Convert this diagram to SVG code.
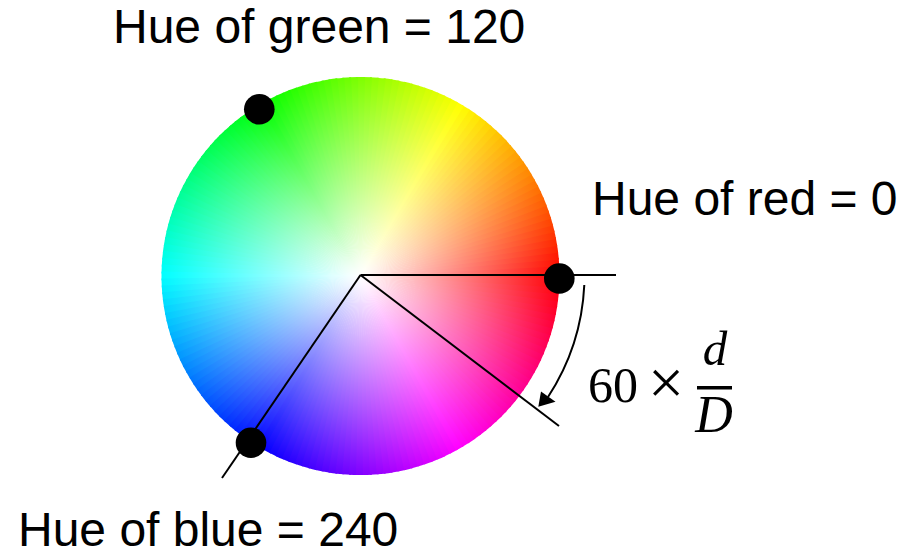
<svg xmlns="http://www.w3.org/2000/svg" xmlns:xlink="http://www.w3.org/1999/xlink" width="912" height="560" viewBox="0 0 912 560">
<style>
.lbl{font-family:"Liberation Sans",Arial,sans-serif;font-size:48px;fill:#000}
.math{font-family:"Liberation Serif","Times New Roman",serif;fill:#000}
.it{font-style:italic}
.ln{stroke:#000;stroke-width:2;fill:none}
.dot{fill:#000}
</style>
<defs>
<path id="w" d="M0 0 L198.95 4.5 A199 199 0 0 0 198.95 -4.5 Z"/>
<radialGradient id="wh" cx="0" cy="0" r="199" gradientUnits="userSpaceOnUse">
<stop offset="0" stop-color="#fff" stop-opacity="1"/>
<stop offset="1" stop-color="#fff" stop-opacity="0"/>
</radialGradient>
</defs>
<rect width="912" height="560" fill="#fff"/>
<g id="wheel" transform="translate(360.5 276)">
<use xlink:href="#w" transform="rotate(0)" fill="hsl(0,100%,50%)"/>
<use xlink:href="#w" transform="rotate(-2)" fill="hsl(2,100%,50%)"/>
<use xlink:href="#w" transform="rotate(-4)" fill="hsl(4,100%,50%)"/>
<use xlink:href="#w" transform="rotate(-6)" fill="hsl(6,100%,50%)"/>
<use xlink:href="#w" transform="rotate(-8)" fill="hsl(8,100%,50%)"/>
<use xlink:href="#w" transform="rotate(-10)" fill="hsl(10,100%,50%)"/>
<use xlink:href="#w" transform="rotate(-12)" fill="hsl(12,100%,50%)"/>
<use xlink:href="#w" transform="rotate(-14)" fill="hsl(14,100%,50%)"/>
<use xlink:href="#w" transform="rotate(-16)" fill="hsl(16,100%,50%)"/>
<use xlink:href="#w" transform="rotate(-18)" fill="hsl(18,100%,50%)"/>
<use xlink:href="#w" transform="rotate(-20)" fill="hsl(20,100%,50%)"/>
<use xlink:href="#w" transform="rotate(-22)" fill="hsl(22,100%,50%)"/>
<use xlink:href="#w" transform="rotate(-24)" fill="hsl(24,100%,50%)"/>
<use xlink:href="#w" transform="rotate(-26)" fill="hsl(26,100%,50%)"/>
<use xlink:href="#w" transform="rotate(-28)" fill="hsl(28,100%,50%)"/>
<use xlink:href="#w" transform="rotate(-30)" fill="hsl(30,100%,50%)"/>
<use xlink:href="#w" transform="rotate(-32)" fill="hsl(32,100%,50%)"/>
<use xlink:href="#w" transform="rotate(-34)" fill="hsl(34,100%,50%)"/>
<use xlink:href="#w" transform="rotate(-36)" fill="hsl(36,100%,50%)"/>
<use xlink:href="#w" transform="rotate(-38)" fill="hsl(38,100%,50%)"/>
<use xlink:href="#w" transform="rotate(-40)" fill="hsl(40,100%,50%)"/>
<use xlink:href="#w" transform="rotate(-42)" fill="hsl(42,100%,50%)"/>
<use xlink:href="#w" transform="rotate(-44)" fill="hsl(44,100%,50%)"/>
<use xlink:href="#w" transform="rotate(-46)" fill="hsl(46,100%,50%)"/>
<use xlink:href="#w" transform="rotate(-48)" fill="hsl(48,100%,50%)"/>
<use xlink:href="#w" transform="rotate(-50)" fill="hsl(50,100%,50%)"/>
<use xlink:href="#w" transform="rotate(-52)" fill="hsl(52,100%,50%)"/>
<use xlink:href="#w" transform="rotate(-54)" fill="hsl(54,100%,50%)"/>
<use xlink:href="#w" transform="rotate(-56)" fill="hsl(56,100%,50%)"/>
<use xlink:href="#w" transform="rotate(-58)" fill="hsl(58,100%,50%)"/>
<use xlink:href="#w" transform="rotate(-60)" fill="hsl(60,100%,50%)"/>
<use xlink:href="#w" transform="rotate(-62)" fill="hsl(62,100%,50%)"/>
<use xlink:href="#w" transform="rotate(-64)" fill="hsl(64,100%,50%)"/>
<use xlink:href="#w" transform="rotate(-66)" fill="hsl(66,100%,50%)"/>
<use xlink:href="#w" transform="rotate(-68)" fill="hsl(68,100%,50%)"/>
<use xlink:href="#w" transform="rotate(-70)" fill="hsl(70,100%,50%)"/>
<use xlink:href="#w" transform="rotate(-72)" fill="hsl(72,100%,50%)"/>
<use xlink:href="#w" transform="rotate(-74)" fill="hsl(74,100%,50%)"/>
<use xlink:href="#w" transform="rotate(-76)" fill="hsl(76,100%,50%)"/>
<use xlink:href="#w" transform="rotate(-78)" fill="hsl(78,100%,50%)"/>
<use xlink:href="#w" transform="rotate(-80)" fill="hsl(80,100%,50%)"/>
<use xlink:href="#w" transform="rotate(-82)" fill="hsl(82,100%,50%)"/>
<use xlink:href="#w" transform="rotate(-84)" fill="hsl(84,100%,50%)"/>
<use xlink:href="#w" transform="rotate(-86)" fill="hsl(86,100%,50%)"/>
<use xlink:href="#w" transform="rotate(-88)" fill="hsl(88,100%,50%)"/>
<use xlink:href="#w" transform="rotate(-90)" fill="hsl(90,100%,50%)"/>
<use xlink:href="#w" transform="rotate(-92)" fill="hsl(92,100%,50%)"/>
<use xlink:href="#w" transform="rotate(-94)" fill="hsl(94,100%,50%)"/>
<use xlink:href="#w" transform="rotate(-96)" fill="hsl(96,100%,50%)"/>
<use xlink:href="#w" transform="rotate(-98)" fill="hsl(98,100%,50%)"/>
<use xlink:href="#w" transform="rotate(-100)" fill="hsl(100,100%,50%)"/>
<use xlink:href="#w" transform="rotate(-102)" fill="hsl(102,100%,50%)"/>
<use xlink:href="#w" transform="rotate(-104)" fill="hsl(104,100%,50%)"/>
<use xlink:href="#w" transform="rotate(-106)" fill="hsl(106,100%,50%)"/>
<use xlink:href="#w" transform="rotate(-108)" fill="hsl(108,100%,50%)"/>
<use xlink:href="#w" transform="rotate(-110)" fill="hsl(110,100%,50%)"/>
<use xlink:href="#w" transform="rotate(-112)" fill="hsl(112,100%,50%)"/>
<use xlink:href="#w" transform="rotate(-114)" fill="hsl(114,100%,50%)"/>
<use xlink:href="#w" transform="rotate(-116)" fill="hsl(116,100%,50%)"/>
<use xlink:href="#w" transform="rotate(-118)" fill="hsl(118,100%,50%)"/>
<use xlink:href="#w" transform="rotate(-120)" fill="hsl(120,100%,50%)"/>
<use xlink:href="#w" transform="rotate(-122)" fill="hsl(122,100%,50%)"/>
<use xlink:href="#w" transform="rotate(-124)" fill="hsl(124,100%,50%)"/>
<use xlink:href="#w" transform="rotate(-126)" fill="hsl(126,100%,50%)"/>
<use xlink:href="#w" transform="rotate(-128)" fill="hsl(128,100%,50%)"/>
<use xlink:href="#w" transform="rotate(-130)" fill="hsl(130,100%,50%)"/>
<use xlink:href="#w" transform="rotate(-132)" fill="hsl(132,100%,50%)"/>
<use xlink:href="#w" transform="rotate(-134)" fill="hsl(134,100%,50%)"/>
<use xlink:href="#w" transform="rotate(-136)" fill="hsl(136,100%,50%)"/>
<use xlink:href="#w" transform="rotate(-138)" fill="hsl(138,100%,50%)"/>
<use xlink:href="#w" transform="rotate(-140)" fill="hsl(140,100%,50%)"/>
<use xlink:href="#w" transform="rotate(-142)" fill="hsl(142,100%,50%)"/>
<use xlink:href="#w" transform="rotate(-144)" fill="hsl(144,100%,50%)"/>
<use xlink:href="#w" transform="rotate(-146)" fill="hsl(146,100%,50%)"/>
<use xlink:href="#w" transform="rotate(-148)" fill="hsl(148,100%,50%)"/>
<use xlink:href="#w" transform="rotate(-150)" fill="hsl(150,100%,50%)"/>
<use xlink:href="#w" transform="rotate(-152)" fill="hsl(152,100%,50%)"/>
<use xlink:href="#w" transform="rotate(-154)" fill="hsl(154,100%,50%)"/>
<use xlink:href="#w" transform="rotate(-156)" fill="hsl(156,100%,50%)"/>
<use xlink:href="#w" transform="rotate(-158)" fill="hsl(158,100%,50%)"/>
<use xlink:href="#w" transform="rotate(-160)" fill="hsl(160,100%,50%)"/>
<use xlink:href="#w" transform="rotate(-162)" fill="hsl(162,100%,50%)"/>
<use xlink:href="#w" transform="rotate(-164)" fill="hsl(164,100%,50%)"/>
<use xlink:href="#w" transform="rotate(-166)" fill="hsl(166,100%,50%)"/>
<use xlink:href="#w" transform="rotate(-168)" fill="hsl(168,100%,50%)"/>
<use xlink:href="#w" transform="rotate(-170)" fill="hsl(170,100%,50%)"/>
<use xlink:href="#w" transform="rotate(-172)" fill="hsl(172,100%,50%)"/>
<use xlink:href="#w" transform="rotate(-174)" fill="hsl(174,100%,50%)"/>
<use xlink:href="#w" transform="rotate(-176)" fill="hsl(176,100%,50%)"/>
<use xlink:href="#w" transform="rotate(-178)" fill="hsl(178,100%,50%)"/>
<use xlink:href="#w" transform="rotate(-180)" fill="hsl(180,100%,50%)"/>
<use xlink:href="#w" transform="rotate(-182)" fill="hsl(182,100%,50%)"/>
<use xlink:href="#w" transform="rotate(-184)" fill="hsl(184,100%,50%)"/>
<use xlink:href="#w" transform="rotate(-186)" fill="hsl(186,100%,50%)"/>
<use xlink:href="#w" transform="rotate(-188)" fill="hsl(188,100%,50%)"/>
<use xlink:href="#w" transform="rotate(-190)" fill="hsl(190,100%,50%)"/>
<use xlink:href="#w" transform="rotate(-192)" fill="hsl(192,100%,50%)"/>
<use xlink:href="#w" transform="rotate(-194)" fill="hsl(194,100%,50%)"/>
<use xlink:href="#w" transform="rotate(-196)" fill="hsl(196,100%,50%)"/>
<use xlink:href="#w" transform="rotate(-198)" fill="hsl(198,100%,50%)"/>
<use xlink:href="#w" transform="rotate(-200)" fill="hsl(200,100%,50%)"/>
<use xlink:href="#w" transform="rotate(-202)" fill="hsl(202,100%,50%)"/>
<use xlink:href="#w" transform="rotate(-204)" fill="hsl(204,100%,50%)"/>
<use xlink:href="#w" transform="rotate(-206)" fill="hsl(206,100%,50%)"/>
<use xlink:href="#w" transform="rotate(-208)" fill="hsl(208,100%,50%)"/>
<use xlink:href="#w" transform="rotate(-210)" fill="hsl(210,100%,50%)"/>
<use xlink:href="#w" transform="rotate(-212)" fill="hsl(212,100%,50%)"/>
<use xlink:href="#w" transform="rotate(-214)" fill="hsl(214,100%,50%)"/>
<use xlink:href="#w" transform="rotate(-216)" fill="hsl(216,100%,50%)"/>
<use xlink:href="#w" transform="rotate(-218)" fill="hsl(218,100%,50%)"/>
<use xlink:href="#w" transform="rotate(-220)" fill="hsl(220,100%,50%)"/>
<use xlink:href="#w" transform="rotate(-222)" fill="hsl(222,100%,50%)"/>
<use xlink:href="#w" transform="rotate(-224)" fill="hsl(224,100%,50%)"/>
<use xlink:href="#w" transform="rotate(-226)" fill="hsl(226,100%,50%)"/>
<use xlink:href="#w" transform="rotate(-228)" fill="hsl(228,100%,50%)"/>
<use xlink:href="#w" transform="rotate(-230)" fill="hsl(230,100%,50%)"/>
<use xlink:href="#w" transform="rotate(-232)" fill="hsl(232,100%,50%)"/>
<use xlink:href="#w" transform="rotate(-234)" fill="hsl(234,100%,50%)"/>
<use xlink:href="#w" transform="rotate(-236)" fill="hsl(236,100%,50%)"/>
<use xlink:href="#w" transform="rotate(-238)" fill="hsl(238,100%,50%)"/>
<use xlink:href="#w" transform="rotate(-240)" fill="hsl(240,100%,50%)"/>
<use xlink:href="#w" transform="rotate(-242)" fill="hsl(242,100%,50%)"/>
<use xlink:href="#w" transform="rotate(-244)" fill="hsl(244,100%,50%)"/>
<use xlink:href="#w" transform="rotate(-246)" fill="hsl(246,100%,50%)"/>
<use xlink:href="#w" transform="rotate(-248)" fill="hsl(248,100%,50%)"/>
<use xlink:href="#w" transform="rotate(-250)" fill="hsl(250,100%,50%)"/>
<use xlink:href="#w" transform="rotate(-252)" fill="hsl(252,100%,50%)"/>
<use xlink:href="#w" transform="rotate(-254)" fill="hsl(254,100%,50%)"/>
<use xlink:href="#w" transform="rotate(-256)" fill="hsl(256,100%,50%)"/>
<use xlink:href="#w" transform="rotate(-258)" fill="hsl(258,100%,50%)"/>
<use xlink:href="#w" transform="rotate(-260)" fill="hsl(260,100%,50%)"/>
<use xlink:href="#w" transform="rotate(-262)" fill="hsl(262,100%,50%)"/>
<use xlink:href="#w" transform="rotate(-264)" fill="hsl(264,100%,50%)"/>
<use xlink:href="#w" transform="rotate(-266)" fill="hsl(266,100%,50%)"/>
<use xlink:href="#w" transform="rotate(-268)" fill="hsl(268,100%,50%)"/>
<use xlink:href="#w" transform="rotate(-270)" fill="hsl(270,100%,50%)"/>
<use xlink:href="#w" transform="rotate(-272)" fill="hsl(272,100%,50%)"/>
<use xlink:href="#w" transform="rotate(-274)" fill="hsl(274,100%,50%)"/>
<use xlink:href="#w" transform="rotate(-276)" fill="hsl(276,100%,50%)"/>
<use xlink:href="#w" transform="rotate(-278)" fill="hsl(278,100%,50%)"/>
<use xlink:href="#w" transform="rotate(-280)" fill="hsl(280,100%,50%)"/>
<use xlink:href="#w" transform="rotate(-282)" fill="hsl(282,100%,50%)"/>
<use xlink:href="#w" transform="rotate(-284)" fill="hsl(284,100%,50%)"/>
<use xlink:href="#w" transform="rotate(-286)" fill="hsl(286,100%,50%)"/>
<use xlink:href="#w" transform="rotate(-288)" fill="hsl(288,100%,50%)"/>
<use xlink:href="#w" transform="rotate(-290)" fill="hsl(290,100%,50%)"/>
<use xlink:href="#w" transform="rotate(-292)" fill="hsl(292,100%,50%)"/>
<use xlink:href="#w" transform="rotate(-294)" fill="hsl(294,100%,50%)"/>
<use xlink:href="#w" transform="rotate(-296)" fill="hsl(296,100%,50%)"/>
<use xlink:href="#w" transform="rotate(-298)" fill="hsl(298,100%,50%)"/>
<use xlink:href="#w" transform="rotate(-300)" fill="hsl(300,100%,50%)"/>
<use xlink:href="#w" transform="rotate(-302)" fill="hsl(302,100%,50%)"/>
<use xlink:href="#w" transform="rotate(-304)" fill="hsl(304,100%,50%)"/>
<use xlink:href="#w" transform="rotate(-306)" fill="hsl(306,100%,50%)"/>
<use xlink:href="#w" transform="rotate(-308)" fill="hsl(308,100%,50%)"/>
<use xlink:href="#w" transform="rotate(-310)" fill="hsl(310,100%,50%)"/>
<use xlink:href="#w" transform="rotate(-312)" fill="hsl(312,100%,50%)"/>
<use xlink:href="#w" transform="rotate(-314)" fill="hsl(314,100%,50%)"/>
<use xlink:href="#w" transform="rotate(-316)" fill="hsl(316,100%,50%)"/>
<use xlink:href="#w" transform="rotate(-318)" fill="hsl(318,100%,50%)"/>
<use xlink:href="#w" transform="rotate(-320)" fill="hsl(320,100%,50%)"/>
<use xlink:href="#w" transform="rotate(-322)" fill="hsl(322,100%,50%)"/>
<use xlink:href="#w" transform="rotate(-324)" fill="hsl(324,100%,50%)"/>
<use xlink:href="#w" transform="rotate(-326)" fill="hsl(326,100%,50%)"/>
<use xlink:href="#w" transform="rotate(-328)" fill="hsl(328,100%,50%)"/>
<use xlink:href="#w" transform="rotate(-330)" fill="hsl(330,100%,50%)"/>
<use xlink:href="#w" transform="rotate(-332)" fill="hsl(332,100%,50%)"/>
<use xlink:href="#w" transform="rotate(-334)" fill="hsl(334,100%,50%)"/>
<use xlink:href="#w" transform="rotate(-336)" fill="hsl(336,100%,50%)"/>
<use xlink:href="#w" transform="rotate(-338)" fill="hsl(338,100%,50%)"/>
<use xlink:href="#w" transform="rotate(-340)" fill="hsl(340,100%,50%)"/>
<use xlink:href="#w" transform="rotate(-342)" fill="hsl(342,100%,50%)"/>
<use xlink:href="#w" transform="rotate(-344)" fill="hsl(344,100%,50%)"/>
<use xlink:href="#w" transform="rotate(-346)" fill="hsl(346,100%,50%)"/>
<use xlink:href="#w" transform="rotate(-348)" fill="hsl(348,100%,50%)"/>
<use xlink:href="#w" transform="rotate(-350)" fill="hsl(350,100%,50%)"/>
<use xlink:href="#w" transform="rotate(-352)" fill="hsl(352,100%,50%)"/>
<use xlink:href="#w" transform="rotate(-354)" fill="hsl(354,100%,50%)"/>
<use xlink:href="#w" transform="rotate(-356)" fill="hsl(356,100%,50%)"/>
<use xlink:href="#w" transform="rotate(-358)" fill="hsl(358,100%,50%)"/>
<circle cx="0" cy="0" r="199.5" fill="url(#wh)"/>
</g>
<g id="connectors">
<path class="ln" d="M360.5 275 H616"/>
<path class="ln" d="M360.5 275 L559 426"/>
<path class="ln" d="M360.5 275 L222 478"/>
<path class="ln" stroke-width="2.5" d="M584.3 285 A224 224 0 0 1 548 397"/>
<polygon points="538.3,406.7 541,391.5 555.5,401.7" fill="#000"/>
</g>
<g id="green-dot"><circle class="dot" cx="259.3" cy="109.3" r="15.3"/></g>
<g id="red-dot"><circle class="dot" cx="559.3" cy="278.5" r="15.3"/></g>
<g id="blue-dot"><circle class="dot" cx="251" cy="442.7" r="15.3"/></g>
<g id="label-green"><text class="lbl" x="113" y="43">Hue of green = 120</text></g>
<g id="label-red"><text class="lbl" x="592" y="215">Hue of red = 0</text></g>
<g id="label-blue"><text class="lbl" x="18" y="545.5">Hue of blue = 240</text></g>
<g id="formula">
<text class="math" x="588" y="402" font-size="50">60</text>
<text class="math" x="666" y="404" font-size="64" text-anchor="middle">×</text>
<text class="math it" x="715" y="365" font-size="49" text-anchor="middle">d</text>
<rect x="697" y="386" width="35" height="3.5" fill="#000"/>
<text class="math it" x="714" y="432" font-size="52" text-anchor="middle">D</text>
</g>
</svg>
